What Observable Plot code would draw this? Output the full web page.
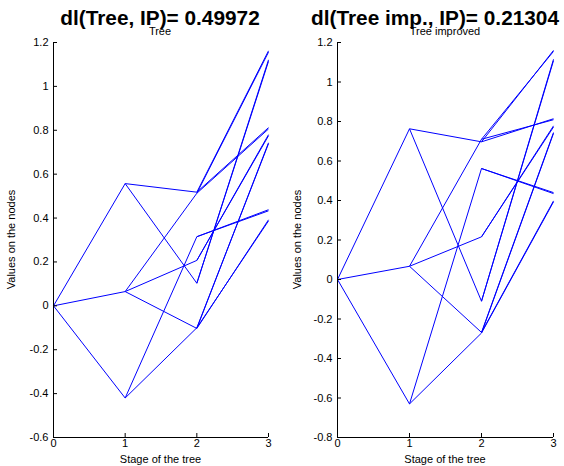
<!DOCTYPE html>
<html>
<head>
<meta charset="utf-8">
<script src="https://cdn.jsdelivr.net/npm/d3@7"></script>
<script src="https://cdn.jsdelivr.net/npm/@observablehq/plot@0.6"></script>
<style>
html, body { margin: 0; padding: 0; background: #fff; }
#fig { position: relative; width: 564px; height: 466px; overflow: hidden; font-family: "Liberation Sans", Arial, Helvetica, sans-serif; }
#fig svg { position: absolute; top: 0; }
</style>
</head>
<body>
<div id="fig"></div>
<script>
// ---- data ----
const stages = [0, 1, 2, 3];
const treeYTicks = [-0.6, -0.4, -0.2, 0, 0.2, 0.4, 0.6, 0.8, 1, 1.2];
const improvedYTicks = [-0.8, -0.6, -0.4, -0.2, 0, 0.2, 0.4, 0.6, 0.8, 1, 1.2];

const treeTitle = "dl(Tree, IP)=  0.49972";
const treeSubtitle = "Tree";
const improvedTitle = "dl(Tree imp., IP)= 0.21304";
const improvedSubtitle = "Tree improved";
const xLabel = "Stage of the tree";
const yLabel = "Values on the nodes";

// edges: [stage of parent, parent value, child value]
const treeEdges = [
  [0, 0, 0.557], [0, 0, 0.065], [0, 0, -0.420],
  [1, 0.557, 0.518], [1, 0.557, 0.103],
  [1, 0.065, 0.513], [1, 0.065, 0.207], [1, 0.065, -0.103],
  [1, -0.420, 0.315], [1, -0.420, -0.100],
  [2, 0.518, 1.162], [2, 0.518, 0.812],
  [2, 0.103, 1.121], [2, 0.103, 1.114],
  [2, 0.513, 1.156], [2, 0.513, 0.806],
  [2, 0.207, 0.780], [2, 0.207, 0.775],
  [2, -0.103, 0.743], [2, -0.103, 0.392],
  [2, 0.315, 0.438], [2, 0.315, 0.433],
  [2, -0.100, 0.739], [2, -0.100, 0.387]
];

const improvedEdges = [
  [0, 0, 0.763], [0, 0, 0.067], [0, 0, -0.630],
  [1, 0.763, 0.697], [1, 0.763, -0.110],
  [1, 0.067, 0.710], [1, 0.067, 0.216], [1, 0.067, -0.268],
  [1, -0.630, 0.562], [1, -0.630, -0.271],
  [2, 0.697, 1.160], [2, 0.697, 0.814],
  [2, -0.110, 1.115], [2, -0.110, 1.108],
  [2, 0.710, 1.155], [2, 0.710, 0.809],
  [2, 0.216, 0.778], [2, 0.216, 0.772],
  [2, -0.268, 0.744], [2, -0.268, 0.398],
  [2, 0.562, 0.440], [2, 0.562, 0.435],
  [2, -0.271, 0.740], [2, -0.271, 0.393]
];

// ---- drawing ----
const FONT = "'Liberation Sans', Arial, Helvetica, sans-serif";
const nextStage = s => stages[stages.indexOf(s) + 1];
const fmt = d => String(+d.toFixed(1));

function panel(edges, yTicks, ml, mr) {
  return Plot.plot({
    width: 282,
    height: 466,
    marginLeft: ml,
    marginRight: mr,
    marginTop: 42,
    marginBottom: 29,
    style: { fontFamily: FONT, fontSize: "11px", color: "#000", background: "transparent", overflow: "visible" },
    x: { domain: [stages[0], stages[stages.length - 1]] },
    y: { domain: [yTicks[0], yTicks[yTicks.length - 1]] },
    marks: [
      Plot.link(edges, {
        x1: d => d[0], y1: d => d[1],
        x2: d => nextStage(d[0]), y2: d => d[2],
        stroke: "#0000ff", strokeWidth: 1
      }),
      Plot.ruleX([stages[0]], { stroke: "#000" }),
      Plot.ruleY([yTicks[0]], { stroke: "#000" }),
      Plot.axisX({ ticks: stages, tickSize: -4, tickPadding: 6, label: null, tickFormat: d => String(d) }),
      Plot.axisY({ ticks: yTicks, tickSize: -4, tickPadding: 9, label: null, tickFormat: fmt })
    ]
  });
}

const fig = document.getElementById("fig");
const left = panel(treeEdges, treeYTicks, 53, 14);
left.style.left = "0px";
fig.appendChild(left);
const right = panel(improvedEdges, improvedYTicks, 55, 11);
right.style.left = "282px";
fig.appendChild(right);

// overlay text (titles and axis labels)
const overlay = d3.select(fig).append("svg")
  .attr("width", 564).attr("height", 466)
  .style("left", "0px")
  .style("font-family", FONT);

const texts = [
  { t: treeTitle, x: 160, y: 25, size: 20.8, weight: "bold" },
  { t: improvedTitle, x: 435, y: 25, size: 20.8, weight: "bold" },
  { t: treeSubtitle, x: 160, y: 34.5, size: 11, weight: "normal" },
  { t: improvedSubtitle, x: 445, y: 34.5, size: 11, weight: "normal" },
  { t: xLabel, x: 160.5, y: 463, size: 11, weight: "normal" },
  { t: xLabel, x: 445, y: 463, size: 11, weight: "normal" }
];
overlay.selectAll("text.t").data(texts).join("text")
  .attr("x", d => d.x).attr("y", d => d.y)
  .attr("text-anchor", "middle")
  .attr("font-size", d => d.size)
  .attr("font-weight", d => d.weight)
  .attr("fill", "#000")
  .text(d => d.t);

const ylabs = [{ x: 15, y: 239.5 }, { x: 301, y: 239.5 }];
overlay.selectAll("text.y").data(ylabs).join("text")
  .attr("transform", d => `translate(${d.x},${d.y}) rotate(-90)`)
  .attr("text-anchor", "middle")
  .attr("font-size", 11)
  .attr("fill", "#000")
  .text(yLabel);
</script>
</body>
</html>
